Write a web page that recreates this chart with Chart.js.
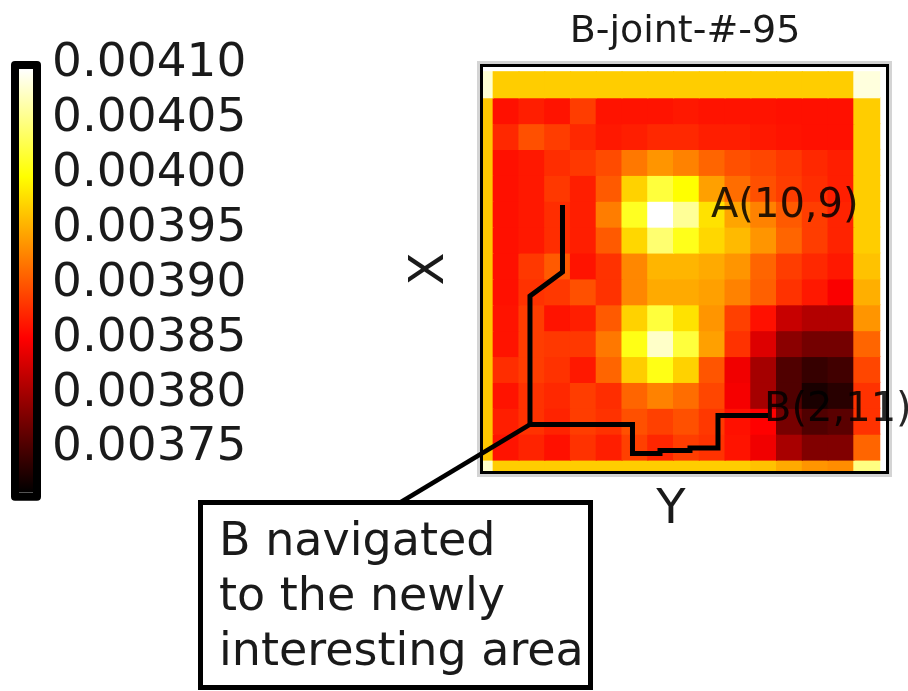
<!DOCTYPE html>
<html lang="en">
<head>
<meta charset="UTF-8">
<title>B-joint-#-95</title>
<style>
  body { margin: 0; background: #fff; }
  .wrap { position: relative; width: 908px; height: 691px; overflow: hidden; }
  .wrap canvas { position: absolute; left: 0; top: 0; }
</style>
</head>
<body>
<div class="wrap">
  <canvas id="barCanvas" width="260" height="540"></canvas>
  <canvas id="mapCanvas" width="908" height="691"></canvas>
</div>
<script src="https://cdn.jsdelivr.net/npm/chart.js"></script>
<script>
// colour range of the map and the colorbar
const VMIN = 0.003714;
const VMAX = 0.004100;
const colorTicks = [0.00375, 0.00380, 0.00385, 0.00390, 0.00395, 0.00400, 0.00405, 0.00410];

// 16 x 16 joint values, row 0 at the top
const cellValues = [
  [0.004083, 0.003973, 0.003973, 0.003973, 0.003973, 0.003973, 0.003973, 0.003973, 0.003973, 0.003973, 0.003973, 0.003973, 0.003973, 0.003973, 0.003973, 0.004087],
  [0.003970, 0.003864, 0.003872, 0.003866, 0.003890, 0.003866, 0.003866, 0.003866, 0.003869, 0.003866, 0.003866, 0.003866, 0.003864, 0.003864, 0.003864, 0.003973],
  [0.003970, 0.003878, 0.003901, 0.003890, 0.003878, 0.003869, 0.003872, 0.003878, 0.003878, 0.003872, 0.003872, 0.003869, 0.003866, 0.003864, 0.003864, 0.003973],
  [0.003970, 0.003864, 0.003869, 0.003881, 0.003887, 0.003898, 0.003924, 0.003941, 0.003930, 0.003913, 0.003901, 0.003895, 0.003887, 0.003878, 0.003872, 0.003973],
  [0.003970, 0.003864, 0.003869, 0.003887, 0.003872, 0.003907, 0.003976, 0.004025, 0.004002, 0.003947, 0.003918, 0.003901, 0.003890, 0.003881, 0.003872, 0.003973],
  [0.003970, 0.003864, 0.003869, 0.003881, 0.003872, 0.003927, 0.004015, 0.004100, 0.004060, 0.003985, 0.003950, 0.003930, 0.003907, 0.003890, 0.003875, 0.003973],
  [0.003970, 0.003864, 0.003869, 0.003881, 0.003872, 0.003907, 0.003979, 0.004045, 0.004012, 0.003979, 0.003962, 0.003941, 0.003913, 0.003890, 0.003875, 0.003973],
  [0.003970, 0.003864, 0.003887, 0.003907, 0.003866, 0.003884, 0.003933, 0.003959, 0.003959, 0.003953, 0.003941, 0.003913, 0.003890, 0.003878, 0.003869, 0.003967],
  [0.003970, 0.003864, 0.003884, 0.003887, 0.003901, 0.003884, 0.003933, 0.003953, 0.003953, 0.003947, 0.003930, 0.003910, 0.003884, 0.003869, 0.003852, 0.003956],
  [0.003970, 0.003866, 0.003890, 0.003866, 0.003872, 0.003907, 0.003976, 0.004025, 0.003985, 0.003941, 0.003892, 0.003864, 0.003824, 0.003813, 0.003813, 0.003941],
  [0.003970, 0.003866, 0.003890, 0.003887, 0.003887, 0.003924, 0.004010, 0.004079, 0.004025, 0.003947, 0.003884, 0.003836, 0.003791, 0.003778, 0.003778, 0.003913],
  [0.003970, 0.003881, 0.003890, 0.003884, 0.003869, 0.003913, 0.003973, 0.004010, 0.003976, 0.003904, 0.003847, 0.003805, 0.003758, 0.003744, 0.003750, 0.003895],
  [0.003970, 0.003866, 0.003884, 0.003878, 0.003890, 0.003881, 0.003913, 0.003930, 0.003918, 0.003895, 0.003850, 0.003805, 0.003758, 0.003728, 0.003736, 0.003884],
  [0.003970, 0.003872, 0.003884, 0.003875, 0.003890, 0.003884, 0.003901, 0.003892, 0.003901, 0.003887, 0.003864, 0.003855, 0.003780, 0.003758, 0.003764, 0.003884],
  [0.003970, 0.003866, 0.003875, 0.003864, 0.003884, 0.003872, 0.003892, 0.003877, 0.003890, 0.003884, 0.003866, 0.003847, 0.003807, 0.003785, 0.003785, 0.003913],
  [0.004080, 0.003973, 0.003973, 0.003973, 0.003973, 0.003973, 0.003973, 0.003973, 0.003973, 0.003973, 0.003973, 0.003967, 0.003953, 0.003941, 0.003936, 0.004052]
];

// route taken by B, in cell units (x = column, y = row)
const pathX = [3.688, 3.688, 2.426, 2.426, 6.405, 6.405, 7.473, 7.473, 8.637, 8.637, 9.724, 9.724, 11.665];
const pathY = [5.147, 7.736, 8.663, 13.628, 13.628, 14.749, 14.749, 14.633, 14.633, 14.536, 14.536, 13.281, 13.281];

const FONT = 'DejaVu Sans';

// matplotlib "hot" colormap
function hot(t) {
    t = Math.min(1, Math.max(0, t));
    const r = Math.min(1, t / 0.365);
    const g = Math.min(1, Math.max(0, (t - 0.365) / 0.381));
    const b = Math.min(1, Math.max(0, (t - 0.746) / 0.254));
    return `rgb(${Math.round(r * 255)},${Math.round(g * 255)},${Math.round(b * 255)})`;
}
const norm = v => (v - VMIN) / (VMAX - VMIN);

// ---------- colorbar ----------
function barGradient(chart) {
    const { ctx, chartArea, scales } = chart;
    if (!chartArea) return null;
    const y0 = scales.y.getPixelForValue(VMIN);
    const y1 = scales.y.getPixelForValue(VMAX);
    const g = ctx.createLinearGradient(0, y0, 0, y1);
    [0, 0.365, 0.746, 1].forEach(t => g.addColorStop(t, hot(t)));
    return g;
}

const barFrame = {
    id: 'barFrame',
    afterDraw(chart) {
        const { ctx, chartArea: a } = chart;
        ctx.save();
        ctx.strokeStyle = '#000';
        ctx.lineWidth = 8;
        ctx.lineJoin = 'round';
        ctx.strokeRect(a.left - 4, a.top - 4, a.right - a.left + 8, a.bottom - a.top + 8);
        ctx.restore();
    }
};

new Chart(document.getElementById('barCanvas'), {
    type: 'bar',
    data: {
        labels: [''],
        datasets: [{
            data: [[VMIN, VMAX]],
            backgroundColor: c => barGradient(c.chart),
            borderWidth: 0,
            barPercentage: 1,
            categoryPercentage: 1,
            inflateAmount: 0
        }]
    },
    options: {
        responsive: false,
        animation: false,
        devicePixelRatio: 1,
        layout: { padding: { left: 19, top: 69, right: 0, bottom: 47 } },
        plugins: { legend: { display: false }, tooltip: { enabled: false } },
        scales: {
            x: { display: false },
            y: {
                position: 'right',
                min: VMIN,
                max: VMAX,
                z: 1,
                afterFit: s => { s.width = 227; },
                afterBuildTicks: s => { s.ticks = colorTicks.map(v => ({ value: v })); },
                grid: { drawTicks: false, color: 'rgba(0,0,0,0.55)', lineWidth: 2 },
                border: { display: false },
                ticks: {
                    padding: 19,
                    labelOffset: -5,
                    color: '#1a1a1a',
                    font: { family: FONT, size: 47 },
                    callback: v => Number(v).toFixed(5)
                }
            }
        }
    },
    plugins: [barFrame]
});

// ---------- heat map ----------
const cellSets = cellValues.map((row, r) => ({
    type: 'bar',
    data: row.map((v, c) => ({ x: c + 0.5, y: [r, r + 1] })),
    backgroundColor: row.map(v => hot(norm(v))),
    borderWidth: 0,
    barPercentage: 1,
    categoryPercentage: 1,
    grouped: false,
    inflateAmount: 0.6
}));

const pathSet = {
    type: 'line',
    data: pathX.map((x, i) => ({ x, y: pathY[i] })),
    borderColor: '#000',
    borderWidth: 5,
    borderJoinStyle: 'miter',
    pointRadius: 0,
    tension: 0,
    fill: false,
    order: -1
};

const decorations = {
    id: 'decorations',
    afterDraw(chart) {
        const { ctx, chartArea: a, scales } = chart;
        ctx.save();
        // axes frame
        ctx.strokeStyle = '#d4d4d4';
        ctx.lineWidth = 3;
        ctx.strokeRect(a.left - 4.5, a.top - 4.5, a.right - a.left + 9, a.bottom - a.top + 9);
        ctx.strokeStyle = '#000';
        ctx.lineWidth = 3;
        ctx.strokeRect(a.left - 1.5, a.top - 1.5, a.right - a.left + 3, a.bottom - a.top + 3);

        // title and axis names
        ctx.fillStyle = '#1a1a1a';
        ctx.textBaseline = 'alphabetic';
        ctx.textAlign = 'center';
        ctx.font = `38px "${FONT}"`;
        ctx.fillText('B-joint-#-95', 685, 42);
        ctx.font = `48px "${FONT}"`;
        ctx.fillText('Y', 671, 523);
        ctx.save();
        ctx.translate(431, 269);
        ctx.rotate(-Math.PI / 2);
        ctx.textBaseline = 'middle';
        ctx.fillText('X', 0, 0);
        ctx.restore();

        // point labels
        ctx.textAlign = 'left';
        ctx.fillStyle = 'rgba(0,0,0,0.85)';
        ctx.font = `40px "${FONT}"`;
        ctx.fillText('A(10,9)', 711, 217);
        ctx.fillText('B(2,11)', 764, 421);

        // callout from the turning point of B's route
        const sx = scales.x.getPixelForValue(pathX[3]);
        const sy = scales.y.getPixelForValue(pathY[3]);
        ctx.strokeStyle = '#000';
        ctx.lineWidth = 4.5;
        ctx.beginPath();
        ctx.moveTo(sx, sy);
        ctx.lineTo(396, 505);
        ctx.stroke();

        ctx.fillStyle = '#fff';
        ctx.fillRect(200.5, 502.5, 390, 185);
        ctx.lineWidth = 5;
        ctx.strokeRect(200.5, 502.5, 390, 185);
        ctx.fillStyle = '#1a1a1a';
        ctx.font = `46px "${FONT}"`;
        ctx.fillText('B navigated', 219, 555);
        ctx.fillText('to the newly', 219, 610);
        ctx.fillText('interesting area', 219, 665);
        ctx.restore();
    }
};

new Chart(document.getElementById('mapCanvas'), {
    type: 'bar',
    data: { datasets: [pathSet, ...cellSets] },
    options: {
        responsive: false,
        animation: false,
        devicePixelRatio: 1,
        layout: { padding: { left: 483, top: 67, right: 22, bottom: 220 } },
        plugins: { legend: { display: false }, tooltip: { enabled: false } },
        scales: {
            x: {
                type: 'linear',
                min: 0.602,
                max: 16.246,
                offset: false,
                display: false,
                afterBuildTicks: s => { s.ticks = []; }
            },
            y: {
                type: 'linear',
                reverse: true,
                min: -0.185,
                max: 15.425,
                display: false
            }
        }
    },
    plugins: [decorations]
});
</script>
</body>
</html>
